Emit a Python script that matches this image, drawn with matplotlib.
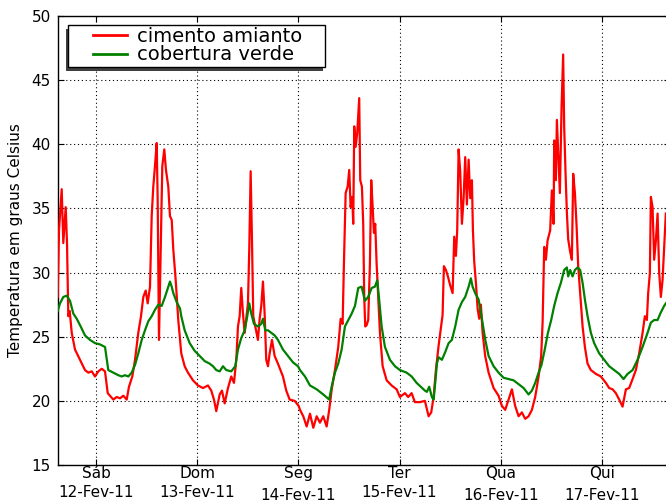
import matplotlib
matplotlib.use('Agg')
import matplotlib.pyplot as plt
from matplotlib.patches import Rectangle
from matplotlib.transforms import IdentityTransform

# ---------------- data (hours since 12-Feb-2011 00:00, temperature in C) ----------------
red_h = [-9.14, -8.83, -8.19, -7.81, -7.24, -6.93, -6.62, -6.29, -5.81, -5.03,
         -3.84, -2.66, -1.87, -1.07, -0.28, 0.50, 1.31, 2.09, 2.73, 3.27,
         4.06, 4.86, 5.65, 6.43, 7.24, 7.78, 8.57, 9.21, 9.99, 10.63,
         11.18, 11.75, 12.22, 12.77, 13.17, 13.55, 13.95, 14.36, 14.59, 14.90,
         15.38, 15.69, 16.16, 16.56, 17.11, 17.51, 17.92, 18.30, 18.87, 19.48,
         20.19, 21.00, 21.78, 22.97, 24.16, 25.34, 26.53, 27.31, 27.95, 28.50,
         29.31, 29.85, 30.49, 31.28, 32.06, 32.70, 33.25, 33.65, 34.05, 34.43,
         34.84, 35.24, 35.62, 36.02, 36.33, 36.66, 36.97, 37.28, 37.75, 38.39,
         38.80, 39.18, 39.58, 39.98, 40.36, 40.77, 41.17, 41.72, 42.36, 43.14,
         44.33, 45.11, 45.92, 47.11, 48.06, 48.37, 49.15, 49.96, 50.74, 51.53,
         52.33, 53.11, 53.89, 54.70, 55.31, 55.88, 56.67, 57.45, 58.02, 58.49,
         58.80, 59.21, 59.68, 60.06, 60.39, 60.77, 61.01, 61.25, 61.58, 61.96,
         62.43, 62.67, 63.07, 63.38, 63.62, 63.86, 64.19, 64.57, 64.97, 65.28,
         65.61, 65.92, 66.23, 66.56, 66.94, 67.35, 67.99, 68.94, 70.12, 71.31,
         72.09, 73.28, 74.06, 74.87, 75.65, 76.84, 78.02, 78.90, 79.52, 80.09,
         80.63, 81.27, 81.82, 82.22, 82.53, 83.01, 83.48, 84.03, 84.60, 84.98,
         85.38, 85.69, 86.02, 86.40, 86.81, 87.21, 87.59, 87.99, 88.40, 88.78,
         89.18, 89.42, 89.72, 90.13, 90.53, 90.91, 91.31, 91.72, 92.33, 93.14,
         94.33, 95.51, 96.30, 97.08, 97.89, 98.67, 99.45, 100.26, 101.04, 101.83,
         102.63, 103.42, 104.20, 105.01, 105.62, 105.96, 106.34, 106.74, 107.14, 107.76,
         108.16, 108.57, 108.71, 109.11, 109.35, 109.75, 110.06, 110.46, 110.84, 111.08,
         111.41, 111.72, 112.03, 112.51, 112.91, 113.22, 113.63, 114.03, 114.41, 114.88,
         115.45, 116.00, 116.63, 117.42, 118.61, 119.79, 120.98, 121.76, 122.57, 123.35,
         124.14, 124.94, 125.73, 126.51, 127.32, 128.10, 128.88, 129.69, 130.23, 130.71,
         131.02, 131.42, 131.66, 132.06, 132.44, 132.85, 133.25, 133.63, 134.03, 134.43,
         134.81, 135.21]
red_t = [28.1, 33.3, 36.5, 32.3, 35.1, 32.3, 26.6, 27.0, 25.3, 24.0,
         23.2, 22.4, 22.2, 22.3, 21.9, 22.3, 22.5, 22.3, 20.6, 20.4,
         20.1, 20.3, 20.2, 20.4, 20.1, 21.1, 21.9, 23.2, 25.3, 26.6,
         28.1, 28.6, 27.6, 28.9, 34.4, 36.7, 38.3, 40.1, 35.7, 24.75,
         33.1, 38.3, 39.6, 38.0, 36.7, 34.4, 34.1, 31.8, 29.4, 26.3,
         23.7, 22.7, 22.2, 21.6, 21.2, 21.0, 21.2, 20.8, 20.1, 19.2,
         20.5, 20.8, 19.8, 21.0, 21.9, 21.4, 23.2, 25.8, 26.6, 28.8,
         26.8, 25.3, 26.4, 27.6, 31.8, 37.9, 32.6, 26.6, 25.8, 24.75,
         26.4, 27.4, 29.3, 26.8, 23.2, 22.7, 23.7, 24.75, 23.5, 22.9,
         21.9, 20.8, 20.1, 20.0, 19.6, 19.3, 18.8, 18.0, 19.0, 17.9,
         18.8, 18.3, 18.8, 18.0, 19.3, 20.85, 22.4, 24.2, 26.4, 26.0,
         30.7, 36.2, 36.7, 38.0, 35.1, 35.9, 33.8, 41.4, 39.8, 40.9,
         43.6, 37.2, 36.7, 33.8, 28.1, 25.8, 25.9, 26.3, 30.7, 37.2,
         35.2, 33.1, 33.8, 30.7, 28.1, 25.3, 22.7, 21.6, 21.2, 20.9,
         20.3, 20.6, 20.3, 20.6, 19.9, 19.9, 20.0, 18.8, 19.1, 20.3,
         22.4, 24.3, 25.7, 26.7, 30.5, 30.2, 29.7, 29.0, 28.4, 32.8,
         31.3, 33.3, 39.6, 37.9, 33.8, 35.8, 39.0, 35.3, 38.8, 35.8,
         37.2, 33.3, 30.9, 29.2, 27.2, 26.4, 27.5, 25.3, 23.5, 22.2,
         21.0, 20.4, 19.6, 19.3, 20.1, 20.9, 19.6, 18.8, 19.1, 18.6,
         18.8, 19.3, 20.3, 21.9, 23.5, 26.1, 32.0, 31.0, 32.5, 33.3,
         36.4, 33.8, 40.3, 37.2, 41.9, 38.8, 36.2, 42.9, 47.0, 41.4,
         37.7, 34.7, 32.6, 31.6, 31.0, 37.7, 36.2, 33.6, 30.5, 28.4,
         25.8, 24.2, 22.9, 22.4, 22.1, 21.9, 21.4, 21.0, 20.9, 20.6,
         20.1, 19.55, 20.9, 21.0, 21.7, 22.4, 23.7, 25.3, 26.6, 26.3,
         28.4, 29.95, 35.9, 35.1, 31.0, 32.5, 34.6, 30.0, 28.1, 29.4,
         32.0, 34.6]

green_h = [-9.14, -8.59, -7.81, -7.00, -6.22, -5.43, -4.63, -3.84, -2.66, -1.47,
           -0.28, 0.90, 2.09, 2.49, 2.87, 4.06, 5.24, 6.05, 6.83, 7.62,
           8.42, 9.21, 9.99, 10.80, 11.58, 12.36, 13.17, 13.95, 14.74, 15.54,
           16.33, 17.11, 17.51, 17.92, 18.30, 19.10, 19.89, 20.19, 21.00, 22.19,
           23.37, 24.56, 25.75, 26.93, 27.72, 28.50, 29.31, 30.09, 30.87, 32.06,
           33.01, 33.65, 34.43, 35.24, 35.86, 36.33, 36.81, 37.45, 38.39, 39.18,
           39.58, 40.13, 40.77, 41.55, 42.36, 43.14, 44.33, 45.52, 46.71, 47.89,
           48.37, 49.56, 50.74, 52.33, 53.89, 55.31, 55.88, 56.67, 57.45, 58.26,
           59.04, 59.83, 60.64, 61.42, 62.20, 63.01, 63.79, 64.57, 65.38, 66.16,
           66.71, 67.19, 67.75, 68.54, 69.73, 70.91, 72.10, 73.68, 74.87, 76.06,
           78.02, 78.49, 79.04, 79.68, 80.09, 80.47, 80.87, 81.27, 82.06, 82.84,
           83.65, 84.43, 85.22, 86.02, 86.81, 87.59, 88.40, 88.94, 89.34, 89.96,
           90.77, 91.55, 92.33, 93.14, 94.33, 95.51, 96.70, 97.89, 99.07, 100.26,
           101.45, 102.63, 103.42, 104.20, 105.01, 105.69, 106.41, 107.22, 108.00, 108.71,
           109.51, 110.30, 111.08, 111.72, 112.03, 112.51, 113.07, 113.63, 114.26, 114.88,
           115.45, 116.00, 116.63, 117.42, 118.20, 119.39, 120.58, 121.76, 122.95, 124.14,
           125.18, 126.13, 127.32, 128.50, 129.69, 130.87, 131.66, 132.44, 133.25, 134.03,
           134.81, 135.21]
green_t = [27.0, 27.6, 28.1, 28.2, 27.8, 26.8, 26.4, 25.9, 25.1, 24.75,
           24.5, 24.4, 24.2, 23.3, 22.4, 22.2, 22.0, 21.9, 22.0, 21.9,
           22.2, 22.8, 23.7, 24.75, 25.5, 26.2, 26.6, 27.1, 27.5, 27.4,
           28.1, 28.9, 29.3, 28.9, 28.4, 27.7, 27.2, 26.6, 25.5, 24.5,
           23.9, 23.5, 23.1, 22.9, 22.7, 22.4, 22.3, 22.7, 22.4, 22.3,
           22.7, 24.0, 24.9, 25.5, 26.6, 27.6, 26.8, 26.0, 25.8, 26.0,
           26.4, 25.5, 25.5, 25.3, 25.1, 24.75, 24.0, 23.5, 23.0, 22.7,
           22.4, 21.9, 21.2, 20.9, 20.5, 20.1, 21.1, 22.2, 22.9, 24.0,
           25.8, 26.3, 26.8, 27.4, 28.8, 28.9, 27.8, 28.1, 28.8, 28.9,
           29.4, 27.8, 25.8, 24.2, 23.2, 22.7, 22.4, 22.2, 21.9, 21.4,
           20.8, 20.7, 21.1, 20.3, 20.1, 21.4, 22.9, 23.4, 23.2, 23.8,
           24.5, 24.75, 25.8, 27.1, 27.7, 28.1, 28.9, 29.55, 28.9, 28.4,
           27.9, 26.4, 24.8, 23.5, 22.7, 22.2, 21.8, 21.7, 21.6, 21.3,
           21.0, 20.5, 20.8, 21.4, 22.2, 22.8, 23.9, 25.3, 26.3, 27.4,
           28.4, 29.2, 30.2, 30.4, 29.7, 30.2, 29.7, 30.2, 30.4, 30.2,
           29.2, 27.9, 26.6, 25.3, 24.5, 23.7, 23.2, 22.7, 22.4, 22.1,
           21.7, 22.1, 22.4, 23.2, 24.2, 25.3, 26.1, 26.3, 26.3, 26.9,
           27.4, 27.6]

tick_hours = [0, 24, 48, 72, 96, 120]
day_names = ['Sáb', 'Dom', 'Seg', 'Ter', 'Qua', 'Qui']
date_labels = ['12-Fev-11', '13-Fev-11', '14-Fev-11', '15-Fev-11', '16-Fev-11', '17-Fev-11']
y_ticks = [15, 20, 25, 30, 35, 40, 45, 50]
series_labels = ['cimento amianto', 'cobertura verde']

# ---------------- figure ----------------
W, H = 666, 504
fig = plt.figure(figsize=(W / 100, H / 100), dpi=100)
fig.patch.set_facecolor('white')
ax = fig.add_axes([57.7 / W, 1 - 465 / H, (670 - 57.7) / W, 449 / H])

ax.plot(red_h, red_t, color='#ff0000', lw=1.6, label=series_labels[0], zorder=3)
ax.plot(green_h, green_t, color='#008000', lw=1.6, label=series_labels[1], zorder=3)

ax.set_xlim(-9.14, 136.2)
ax.set_ylim(15, 50)
ax.set_yticks(y_ticks)
ax.set_xticks(tick_hours)
ax.set_xticklabels(day_names)

ax.grid(True, color='k', linestyle=(0, (1, 2.5)), linewidth=0.8, zorder=1)
ax.set_axisbelow(True)
ax.tick_params(direction='in', top=True, right=True, length=4, width=0.8,
               labelsize=11, color='k')
ax.tick_params(axis='y', pad=5)
ax.tick_params(axis='x', pad=1)
for s in ax.spines.values():
    s.set_linewidth(1.0)

ax.set_ylabel('Temperatura em graus Celsius', fontsize=11)
ax.yaxis.set_label_coords(-0.057, 0.5)

# second line of the date tick labels (staggered like the original)
for hx, nm, dl in zip(tick_hours, day_names, date_labels):
    off = 16.8 if any(c in nm for c in 'gQ') else 14.6
    ax.annotate(dl, xy=(hx, 0), xycoords=('data', 'axes fraction'),
                xytext=(0, -off), textcoords='offset points',
                ha='center', va='top', fontsize=11, annotation_clip=False)

# legend with a hand-drawn square frame and shadow
leg = ax.legend(loc='upper left', bbox_to_anchor=(93 / W, 1 - 26.5 / H),
                bbox_transform=fig.transFigure, borderaxespad=0, borderpad=0,
                frameon=False, fontsize=14, handlelength=1.75,
                handletextpad=0.5, labelspacing=0.0)
leg.set_zorder(6)
for ln in leg.get_lines():
    ln.set_linewidth(2.0)

shadow = Rectangle((65.5, H - 70.5), 325 - 68, 67 - 25, transform=IdentityTransform(),
                   facecolor='0.25', edgecolor='none', zorder=4.8, clip_on=False)
frame = Rectangle((68, H - 67), 325 - 68, 67 - 25, transform=IdentityTransform(),
                  facecolor='white', edgecolor='k', lw=1.0, zorder=4.9, clip_on=False)
ax.add_artist(shadow)
ax.add_artist(frame)

fig.savefig('out.png', dpi=100, facecolor='white')
